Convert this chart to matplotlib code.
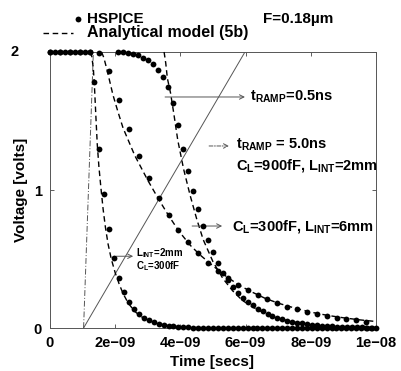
import numpy as np
import matplotlib
matplotlib.use('Agg')
import matplotlib.pyplot as plt
from matplotlib.lines import Line2D

plt.rcParams['font.family'] = ['Liberation Sans', 'DejaVu Sans']
plt.rcParams['font.weight'] = 'bold'
plt.rcParams['mathtext.fontset'] = 'custom'
plt.rcParams['mathtext.rm'] = 'Liberation Sans:bold'
plt.rcParams['mathtext.it'] = 'Liberation Sans:bold'
plt.rcParams['mathtext.bf'] = 'Liberation Sans:bold'
plt.rcParams['mathtext.default'] = 'rm'

NS = 1e-9

# ---------------- data (time in ns, voltage in V) ----------------
# HSPICE: tRAMP=0.5ns, L_INT=2mm, C_L=300fF
hs1_t = np.linspace(0.0, 10.0, 67)
hs1_v = [2.0, 2.0, 2.0, 2.0, 2.0, 2.0, 2.0, 2.0, 2.0,
         1.78, 1.30, 0.97, 0.72, 0.51, 0.36, 0.26, 0.19, 0.14, 0.10,
         0.075, 0.055, 0.04, 0.03, 0.022, 0.016, 0.012, 0.009, 0.006,
         0.004, 0.003, 0.002,
         0.001, 0.001, 0.001, 0.0, 0.0, 0.0, 0.0, 0.0, 0.0, 0.0, 0.0, 0.0,
         0.0, 0.0, 0.0, 0.0, 0.0, 0.0, 0.0, 0.0, 0.0, 0.0, 0.0, 0.0, 0.0,
         0.0, 0.0, 0.0, 0.0, 0.0, 0.0, 0.0, 0.0, 0.0, 0.0, 0.0]

# HSPICE: tRAMP=0.5ns, C_L=300fF, L_INT=6mm
hs2_t = np.linspace(0.0, 9.7, 33)
hs2_v = [2.0, 2.0, 2.0, 2.0, 2.0, 1.99, 1.86, 1.65, 1.44, 1.25, 1.09,
         0.94, 0.82, 0.71, 0.62, 0.54, 0.47, 0.41, 0.36, 0.315, 0.275,
         0.24, 0.21, 0.18, 0.155, 0.135, 0.115, 0.10, 0.088, 0.076,
         0.066, 0.056, 0.047]

# HSPICE: tRAMP=5.0ns, C_L=900fF, L_INT=2mm
hs3_t = np.linspace(2.09, 9.88, 52)
hs3_v = [2.0, 2.0, 1.995, 1.985, 1.975, 1.96, 1.94, 1.91, 1.87, 1.82,
         1.75, 1.63, 1.47, 1.30, 1.14, 0.99, 0.86, 0.74, 0.64, 0.55,
         0.47, 0.40, 0.345, 0.295, 0.255, 0.22, 0.19, 0.165, 0.14, 0.12,
         0.103, 0.088, 0.075, 0.064, 0.054, 0.046, 0.039, 0.033, 0.028,
         0.024, 0.020, 0.017, 0.014, 0.012, 0.010, 0.008, 0.007, 0.006,
         0.005, 0.004, 0.003, 0.003]

# Analytical model (5b)
an1_t = [1.23, 1.28, 1.33, 1.37, 1.41, 1.45, 1.50, 1.56, 1.63, 1.70, 1.78,
         1.88, 2.00, 2.12, 2.24, 2.40, 2.60, 2.80, 3.00, 3.30, 3.60, 4.00,
         4.50, 5.00, 6.00, 10.0]
an1_v = [2.0, 1.97, 1.88, 1.72, 1.52, 1.33, 1.17, 1.02, 0.86, 0.73, 0.61,
         0.50, 0.40, 0.32, 0.25, 0.18, 0.12, 0.082, 0.056, 0.032, 0.018,
         0.008, 0.003, 0.001, 0.0, 0.0]

an2_t = [1.58, 1.65, 1.75, 1.93, 2.08, 2.24, 2.42, 2.60, 2.80, 3.00, 3.34,
         3.65, 3.96, 4.30, 4.60, 5.00, 5.40, 5.80, 6.20, 6.60, 7.00, 7.50,
         8.00, 8.50, 9.00, 9.50, 10.0]
an2_v = [2.0, 1.96, 1.87, 1.69, 1.57, 1.45, 1.35, 1.25, 1.16, 1.07, 0.93,
         0.81, 0.70, 0.60, 0.53, 0.45, 0.375, 0.31, 0.26, 0.215, 0.18,
         0.145, 0.115, 0.092, 0.074, 0.059, 0.047]

an3_t = [3.50, 3.55, 3.60, 3.70, 3.80, 3.92, 4.10, 4.30, 4.50, 4.70, 5.00,
         5.30, 5.60, 5.90, 6.23, 6.60, 7.00, 7.50, 8.00, 8.50, 9.00, 9.50,
         10.0]
an3_v = [2.0, 1.92, 1.81, 1.70, 1.55, 1.36, 1.15, 0.96, 0.79, 0.64, 0.48,
         0.36, 0.27, 0.20, 0.15, 0.105, 0.07, 0.042, 0.024, 0.013, 0.007,
         0.004, 0.002]

# input ramps
ramp_fast_t = [1.03, 1.33]
ramp_slow_t = [1.03, 5.98]
ramp_v = [0.0, 2.0]

xtick_vals = [0, 2, 4, 6, 8, 10]
xtick_labels = ['0', '2e\u221209', '4e\u221209', '6e\u221209', '8e\u221209', '1e\u221208']
ytick_vals = [0, 1, 2]

# ---------------- figure ----------------
fig = plt.figure(figsize=(4.01, 3.71), dpi=100)
ax = fig.add_axes([50/401, 1-328/371, 326/401, 276/371])

def ns(a):
    return np.asarray(a, dtype=float) * NS

dash = (0, (4.0, 2.6))
ax.plot(ns(ramp_slow_t), ramp_v, color='#555555', lw=0.7, zorder=2)
ax.plot(ns(ramp_fast_t), ramp_v, color='#555555', lw=0.7, ls=(0, (6, 2, 1, 2)), zorder=2)

for t, v in [(an1_t, an1_v), (an2_t, an2_v), (an3_t, an3_v)]:
    ax.plot(ns(t), v, color='black', lw=1.0, ls=dash, zorder=3, clip_on=False)

for t, v in [(hs1_t, hs1_v), (hs2_t, hs2_v), (hs3_t, hs3_v)]:
    ax.plot(ns(t), v, ls='none', marker='o', ms=4.2, color='black',
            markeredgewidth=0, zorder=4, clip_on=False)

ax.set_xlim(0, 10*NS)
ax.set_ylim(0, 2)
ax.set_xticks([x*NS for x in xtick_vals])
ax.set_xticklabels(xtick_labels)
ax.set_yticks(ytick_vals)
ax.set_yticklabels(['0', '1', ''])
ax.tick_params(direction='in', length=3, width=0.6, colors='#444444',
               top=True, right=True, labelsize=10.5, pad=6)
for lab in ax.get_xticklabels() + ax.get_yticklabels():
    lab.set_color('black')
    lab.set_fontweight('bold')
fig.text(19/401, 1-52/371, '2', ha='right', va='center', fontsize=10.5,
         fontweight='bold')
for s in ax.spines.values():
    s.set_linewidth(0.7)
    s.set_color('#555555')

ax.set_xlabel('Time [secs]', fontsize=11, fontweight='bold')
ax.xaxis.set_label_coords(0.497, -(355-328)/276)
ax.set_ylabel('Voltage [volts]', fontsize=11, fontweight='bold')
ax.yaxis.set_label_coords(-(50-28)/326, 0.5)

# legend (drawn above the axes)
fig.add_artist(Line2D([78/401], [1-19/371], marker='o', ms=4.2, color='black',
                      markeredgewidth=0, transform=fig.transFigure))
fig.add_artist(Line2D([43/401, 73/401], [1-33/371, 1-33/371], color='black',
                      lw=1.0, ls=dash, transform=fig.transFigure))
fig.text(87/401, 1-19/371, 'HSPICE', va='center', fontsize=11, fontweight='bold')
fig.text(87/401, 1-33/371, 'Analytical model (5b)', va='center', fontsize=11.5,
         fontweight='bold')
fig.text(263/401, 1-19/371, 'F=0.18\u00b5m', va='center', fontsize=11,
         fontweight='bold')

# annotations
arr = dict(arrowstyle='->', color='#555555', lw=0.7, shrinkA=0, shrinkB=0,
           mutation_scale=8)
ax.annotate('', xy=(5.98*NS, 1.674), xytext=(3.53*NS, 1.674), arrowprops=arr,
            annotation_clip=False)
ax.text(6.12*NS, 1.674, r't$_{\rm RAMP}$=0.5ns', va='center', fontsize=10.5,
        fontweight='bold', clip_on=False)

arr2 = dict(arr, linestyle=(0, (4, 1.5, 1, 1.5)))
ax.annotate('', xy=(5.49*NS, 1.319), xytext=(4.88*NS, 1.319), arrowprops=arr2,
            annotation_clip=False)
ax.text(5.7*NS, 1.326, r't$_{\rm RAMP}$ = 5.0ns', va='center', fontsize=10.5,
        fontweight='bold', clip_on=False)
ax.text(5.7*NS, 1.18, r'C$_{\rm L}$=900fF, L$_{\rm INT}$=2mm', va='center',
        fontsize=10.5, fontweight='bold', clip_on=False)

ax.annotate('', xy=(5.28*NS, 0.739), xytext=(4.36*NS, 0.739), arrowprops=arr,
            annotation_clip=False)
ax.text(5.58*NS, 0.739, r'C$_{\rm L}$=300fF, L$_{\rm INT}$=6mm', va='center',
        fontsize=10.5, fontweight='bold', clip_on=False)

ax.annotate('', xy=(2.55*NS, 0.52), xytext=(2.03*NS, 0.52), arrowprops=arr,
            annotation_clip=False)
ax.text(2.65*NS, 0.495, 'L$_{\\rm INT}$=2mm\nC$_{\\rm L}$=300fF', va='center',
        fontsize=7, fontweight='bold', linespacing=0.95)

fig.savefig('out.png', dpi=100)
